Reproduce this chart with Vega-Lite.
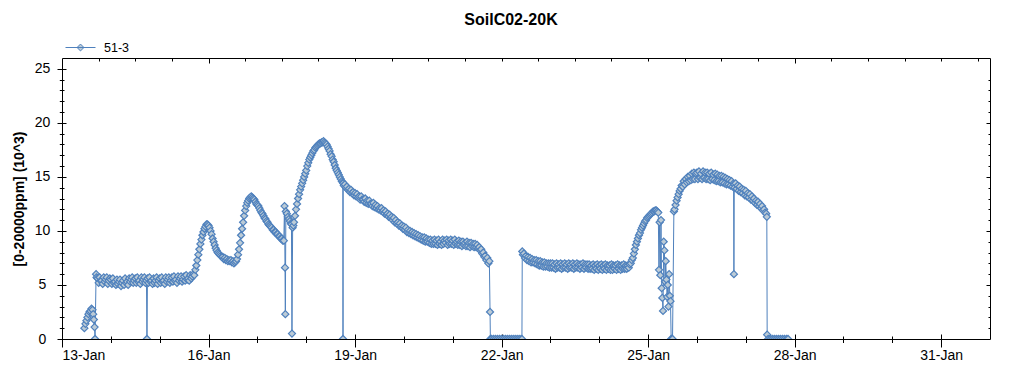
{
"$schema": "https://vega.github.io/schema/vega-lite/v6.json",
"width": 928, "height": 281,
"autosize": {"type": "none"},
"padding": {"left": 62, "top": 58, "right": 34, "bottom": 36},
"background": "white",
"config": {"view": {"stroke": "#000", "strokeWidth": 1}, "font": "Liberation Sans",
 "axis": {"domain": false, "grid": false, "tickColor": "#000", "tickWidth": 1, "labelColor": "#000", "labelFont": "Liberation Sans", "labelFontSize": 14, "titleFont": "Liberation Sans", "titleColor": "#000"}},
"title": {"text": "SoilC02-20K", "fontSize": 16, "font": "Liberation Sans", "fontWeight": "bold", "color": "#000", "anchor": "middle", "dx": -15, "offset": 4},
"data": {"values": [
{"t":"2020-01-13T11:00","v":1.0},{"t":"2020-01-13T11:30","v":1.4},{"t":"2020-01-13T12:00","v":1.7},{"t":"2020-01-13T12:30","v":2.0},{"t":"2020-01-13T13:00","v":2.3},{"t":"2020-01-13T13:30","v":2.5},{"t":"2020-01-13T14:00","v":2.6},{"t":"2020-01-13T14:30","v":2.8},{"t":"2020-01-13T15:00","v":2.7},{"t":"2020-01-13T15:20","v":2.3},{"t":"2020-01-13T15:40","v":1.8},{"t":"2020-01-13T16:00","v":1.1},{"t":"2020-01-13T16:15","v":0},{"t":"2020-01-13T16:45","v":6.0},{"t":"2020-01-13T17:00","v":5.7},{"t":"2020-01-13T17:30","v":5.6},{"t":"2020-01-13T18:00","v":5.2},{"t":"2020-01-13T18:30","v":5.7},{"t":"2020-01-13T19:00","v":5.4},{"t":"2020-01-13T19:30","v":5.4},{"t":"2020-01-13T20:00","v":5.1},{"t":"2020-01-13T20:30","v":5.7},{"t":"2020-01-13T21:00","v":5.3},{"t":"2020-01-13T21:30","v":5.5},{"t":"2020-01-13T22:00","v":5.7},{"t":"2020-01-13T22:30","v":5.1},{"t":"2020-01-13T23:00","v":5.4},{"t":"2020-01-13T23:30","v":5.6},
{"t":"2020-01-14T00:00","v":5.5},{"t":"2020-01-14T00:30","v":5.1},{"t":"2020-01-14T01:00","v":5.6},{"t":"2020-01-14T01:30","v":5.2},{"t":"2020-01-14T02:00","v":5.3},{"t":"2020-01-14T02:30","v":5.0},{"t":"2020-01-14T03:00","v":5.5},{"t":"2020-01-14T03:30","v":5.1},{"t":"2020-01-14T04:00","v":5.3},{"t":"2020-01-14T04:30","v":5.5},{"t":"2020-01-14T05:00","v":4.9},{"t":"2020-01-14T05:30","v":5.2},{"t":"2020-01-14T06:00","v":5.4},{"t":"2020-01-14T06:30","v":5.0},{"t":"2020-01-14T07:00","v":5.6},{"t":"2020-01-14T07:30","v":5.2},{"t":"2020-01-14T08:00","v":5.3},{"t":"2020-01-14T08:30","v":5.0},{"t":"2020-01-14T09:00","v":5.6},{"t":"2020-01-14T09:30","v":5.3},{"t":"2020-01-14T10:00","v":5.5},{"t":"2020-01-14T10:30","v":5.7},{"t":"2020-01-14T11:00","v":5.2},{"t":"2020-01-14T11:30","v":5.4},{"t":"2020-01-14T12:00","v":5.6},{"t":"2020-01-14T12:30","v":5.2},{"t":"2020-01-14T13:00","v":5.7},{"t":"2020-01-14T13:30","v":5.3},{"t":"2020-01-14T14:00","v":5.4},{"t":"2020-01-14T14:30","v":5.1},{"t":"2020-01-14T15:00","v":5.7},{"t":"2020-01-14T15:30","v":5.3},{"t":"2020-01-14T16:00","v":5.5},{"t":"2020-01-14T16:30","v":5.7},{"t":"2020-01-14T17:00","v":5.2},{"t":"2020-01-14T17:30","v":5.4},{"t":"2020-01-14T17:45","v":0},{"t":"2020-01-14T18:00","v":5.6},{"t":"2020-01-14T18:30","v":5.2},{"t":"2020-01-14T19:00","v":5.7},{"t":"2020-01-14T19:30","v":5.3},{"t":"2020-01-14T20:00","v":5.4},{"t":"2020-01-14T20:30","v":5.1},{"t":"2020-01-14T21:00","v":5.6},{"t":"2020-01-14T21:30","v":5.2},{"t":"2020-01-14T22:00","v":5.4},{"t":"2020-01-14T22:30","v":5.7},{"t":"2020-01-14T23:00","v":5.1},{"t":"2020-01-14T23:30","v":5.4},
{"t":"2020-01-15T00:00","v":5.6},{"t":"2020-01-15T00:30","v":5.2},{"t":"2020-01-15T01:00","v":5.7},{"t":"2020-01-15T01:30","v":5.3},{"t":"2020-01-15T02:00","v":5.4},{"t":"2020-01-15T02:30","v":5.1},{"t":"2020-01-15T03:00","v":5.7},{"t":"2020-01-15T03:30","v":5.3},{"t":"2020-01-15T04:00","v":5.5},{"t":"2020-01-15T04:30","v":5.7},{"t":"2020-01-15T05:00","v":5.2},{"t":"2020-01-15T05:30","v":5.4},{"t":"2020-01-15T06:00","v":5.7},{"t":"2020-01-15T06:30","v":5.3},{"t":"2020-01-15T07:00","v":5.8},{"t":"2020-01-15T07:30","v":5.4},{"t":"2020-01-15T08:00","v":5.5},{"t":"2020-01-15T08:30","v":5.2},{"t":"2020-01-15T09:00","v":5.8},{"t":"2020-01-15T09:30","v":5.4},{"t":"2020-01-15T10:00","v":5.6},{"t":"2020-01-15T10:30","v":5.8},{"t":"2020-01-15T11:00","v":5.3},{"t":"2020-01-15T11:30","v":5.5},{"t":"2020-01-15T12:00","v":5.8},{"t":"2020-01-15T12:30","v":5.4},{"t":"2020-01-15T13:00","v":5.9},{"t":"2020-01-15T13:30","v":5.5},{"t":"2020-01-15T14:00","v":5.6},{"t":"2020-01-15T14:30","v":5.4},{"t":"2020-01-15T15:00","v":5.9},{"t":"2020-01-15T15:30","v":5.6},{"t":"2020-01-15T16:00","v":5.8},{"t":"2020-01-15T16:30","v":6.0},{"t":"2020-01-15T17:00","v":5.9},{"t":"2020-01-15T17:30","v":6.4},{"t":"2020-01-15T18:00","v":6.8},{"t":"2020-01-15T18:30","v":7.3},{"t":"2020-01-15T19:00","v":7.8},{"t":"2020-01-15T19:30","v":8.3},{"t":"2020-01-15T20:00","v":8.8},{"t":"2020-01-15T20:30","v":9.2},{"t":"2020-01-15T21:00","v":9.6},{"t":"2020-01-15T21:30","v":9.9},{"t":"2020-01-15T22:00","v":10.2},{"t":"2020-01-15T22:30","v":10.4},{"t":"2020-01-15T23:00","v":10.6},{"t":"2020-01-15T23:30","v":10.6},
{"t":"2020-01-16T00:00","v":10.5},{"t":"2020-01-16T00:30","v":10.3},{"t":"2020-01-16T01:00","v":10.0},{"t":"2020-01-16T01:30","v":9.7},{"t":"2020-01-16T02:00","v":9.3},{"t":"2020-01-16T02:30","v":9.0},{"t":"2020-01-16T03:00","v":8.7},{"t":"2020-01-16T03:30","v":8.4},{"t":"2020-01-16T04:00","v":8.2},{"t":"2020-01-16T04:30","v":8.0},{"t":"2020-01-16T05:00","v":7.9},{"t":"2020-01-16T05:30","v":7.8},{"t":"2020-01-16T06:00","v":7.7},{"t":"2020-01-16T06:30","v":7.6},{"t":"2020-01-16T07:00","v":7.6},{"t":"2020-01-16T07:30","v":7.4},{"t":"2020-01-16T08:00","v":7.5},{"t":"2020-01-16T08:30","v":7.3},{"t":"2020-01-16T09:00","v":7.4},{"t":"2020-01-16T09:30","v":7.2},{"t":"2020-01-16T10:00","v":7.3},{"t":"2020-01-16T10:30","v":7.2},{"t":"2020-01-16T11:00","v":7.3},{"t":"2020-01-16T11:30","v":7.1},{"t":"2020-01-16T12:00","v":7.2},{"t":"2020-01-16T12:30","v":7.0},{"t":"2020-01-16T13:00","v":7.1},{"t":"2020-01-16T13:30","v":7.2},{"t":"2020-01-16T14:00","v":7.4},{"t":"2020-01-16T14:30","v":7.8},{"t":"2020-01-16T15:00","v":8.3},{"t":"2020-01-16T15:30","v":8.9},{"t":"2020-01-16T16:00","v":9.6},{"t":"2020-01-16T16:30","v":10.2},{"t":"2020-01-16T17:00","v":10.8},{"t":"2020-01-16T17:30","v":11.4},{"t":"2020-01-16T18:00","v":11.9},{"t":"2020-01-16T18:30","v":12.3},{"t":"2020-01-16T19:00","v":12.6},{"t":"2020-01-16T19:30","v":12.8},{"t":"2020-01-16T20:00","v":13.0},{"t":"2020-01-16T20:30","v":13.1},{"t":"2020-01-16T21:00","v":13.2},{"t":"2020-01-16T21:30","v":13.1},{"t":"2020-01-16T22:00","v":13.0},{"t":"2020-01-16T22:30","v":12.9},{"t":"2020-01-16T23:00","v":12.7},{"t":"2020-01-16T23:30","v":12.5},
{"t":"2020-01-17T00:00","v":12.4},{"t":"2020-01-17T00:30","v":12.3},{"t":"2020-01-17T01:00","v":12.1},{"t":"2020-01-17T01:30","v":11.9},{"t":"2020-01-17T02:00","v":11.7},{"t":"2020-01-17T02:30","v":11.6},{"t":"2020-01-17T03:00","v":11.4},{"t":"2020-01-17T03:30","v":11.2},{"t":"2020-01-17T04:00","v":11.1},{"t":"2020-01-17T04:30","v":10.9},{"t":"2020-01-17T05:00","v":10.8},{"t":"2020-01-17T05:30","v":10.6},{"t":"2020-01-17T06:00","v":10.5},{"t":"2020-01-17T06:30","v":10.4},{"t":"2020-01-17T07:00","v":10.3},{"t":"2020-01-17T07:30","v":10.1},{"t":"2020-01-17T08:00","v":10.1},{"t":"2020-01-17T08:30","v":9.9},{"t":"2020-01-17T09:00","v":9.9},{"t":"2020-01-17T09:30","v":9.7},{"t":"2020-01-17T10:00","v":9.7},{"t":"2020-01-17T10:30","v":9.5},{"t":"2020-01-17T11:00","v":9.5},{"t":"2020-01-17T11:30","v":9.3},{"t":"2020-01-17T12:00","v":9.3},{"t":"2020-01-17T12:30","v":9.1},{"t":"2020-01-17T13:00","v":9.1},{"t":"2020-01-17T13:20","v":12.3},{"t":"2020-01-17T13:35","v":6.6},{"t":"2020-01-17T13:45","v":2.3},{"t":"2020-01-17T14:00","v":11.8},{"t":"2020-01-17T14:30","v":11.6},{"t":"2020-01-17T15:00","v":11.3},{"t":"2020-01-17T15:30","v":11.1},{"t":"2020-01-17T16:00","v":10.9},{"t":"2020-01-17T16:30","v":10.7},{"t":"2020-01-17T16:45","v":10.6},{"t":"2020-01-17T17:00","v":0.5},{"t":"2020-01-17T17:20","v":10.3},{"t":"2020-01-17T17:40","v":10.5},{"t":"2020-01-17T18:00","v":10.8},{"t":"2020-01-17T18:30","v":11.4},{"t":"2020-01-17T19:00","v":12.0},{"t":"2020-01-17T19:30","v":12.5},{"t":"2020-01-17T20:00","v":13.0},{"t":"2020-01-17T20:30","v":13.4},{"t":"2020-01-17T21:00","v":13.8},{"t":"2020-01-17T21:30","v":14.1},{"t":"2020-01-17T22:00","v":14.4},{"t":"2020-01-17T22:30","v":14.7},{"t":"2020-01-17T23:00","v":15.0},{"t":"2020-01-17T23:30","v":15.3},
{"t":"2020-01-18T00:00","v":15.6},{"t":"2020-01-18T00:30","v":16.0},{"t":"2020-01-18T01:00","v":16.3},{"t":"2020-01-18T01:30","v":16.6},{"t":"2020-01-18T02:00","v":16.8},{"t":"2020-01-18T02:30","v":17.0},{"t":"2020-01-18T03:00","v":17.2},{"t":"2020-01-18T03:30","v":17.4},{"t":"2020-01-18T04:00","v":17.5},{"t":"2020-01-18T04:30","v":17.7},{"t":"2020-01-18T05:00","v":17.8},{"t":"2020-01-18T05:30","v":17.9},{"t":"2020-01-18T06:00","v":18.0},{"t":"2020-01-18T06:30","v":18.1},{"t":"2020-01-18T07:00","v":18.1},{"t":"2020-01-18T07:30","v":18.2},{"t":"2020-01-18T08:00","v":18.2},{"t":"2020-01-18T08:30","v":18.3},{"t":"2020-01-18T09:00","v":18.2},{"t":"2020-01-18T09:30","v":18.1},{"t":"2020-01-18T10:00","v":18.0},{"t":"2020-01-18T10:30","v":17.8},{"t":"2020-01-18T11:00","v":17.6},{"t":"2020-01-18T11:30","v":17.4},{"t":"2020-01-18T12:00","v":17.1},{"t":"2020-01-18T12:30","v":16.9},{"t":"2020-01-18T13:00","v":16.6},{"t":"2020-01-18T13:30","v":16.4},{"t":"2020-01-18T14:00","v":16.1},{"t":"2020-01-18T14:30","v":15.8},{"t":"2020-01-18T15:00","v":15.6},{"t":"2020-01-18T15:30","v":15.4},{"t":"2020-01-18T16:00","v":15.2},{"t":"2020-01-18T16:30","v":15.0},{"t":"2020-01-18T17:00","v":14.8},{"t":"2020-01-18T17:30","v":14.6},{"t":"2020-01-18T18:00","v":14.5},{"t":"2020-01-18T18:05","v":0},{"t":"2020-01-18T18:10","v":14.4},{"t":"2020-01-18T18:30","v":14.2},{"t":"2020-01-18T19:00","v":14.3},{"t":"2020-01-18T19:30","v":14.0},{"t":"2020-01-18T20:00","v":14.1},{"t":"2020-01-18T20:30","v":13.8},{"t":"2020-01-18T21:00","v":13.9},{"t":"2020-01-18T21:30","v":13.6},{"t":"2020-01-18T22:00","v":13.8},{"t":"2020-01-18T22:30","v":13.5},{"t":"2020-01-18T23:00","v":13.6},{"t":"2020-01-18T23:30","v":13.3},
{"t":"2020-01-19T00:00","v":13.5},{"t":"2020-01-19T00:30","v":13.2},{"t":"2020-01-19T01:00","v":13.4},{"t":"2020-01-19T01:30","v":13.1},{"t":"2020-01-19T02:00","v":13.2},{"t":"2020-01-19T02:30","v":12.9},{"t":"2020-01-19T03:00","v":13.2},{"t":"2020-01-19T03:30","v":12.9},{"t":"2020-01-19T04:00","v":12.9},{"t":"2020-01-19T04:30","v":12.7},{"t":"2020-01-19T05:00","v":13.0},{"t":"2020-01-19T05:30","v":12.6},{"t":"2020-01-19T06:00","v":12.8},{"t":"2020-01-19T06:30","v":12.5},{"t":"2020-01-19T07:00","v":12.8},{"t":"2020-01-19T07:30","v":12.5},{"t":"2020-01-19T08:00","v":12.5},{"t":"2020-01-19T08:30","v":12.3},{"t":"2020-01-19T09:00","v":12.6},{"t":"2020-01-19T09:30","v":12.2},{"t":"2020-01-19T10:00","v":12.4},{"t":"2020-01-19T10:30","v":12.1},{"t":"2020-01-19T11:00","v":12.3},{"t":"2020-01-19T11:30","v":12.0},{"t":"2020-01-19T12:00","v":12.1},{"t":"2020-01-19T12:30","v":11.9},{"t":"2020-01-19T13:00","v":12.1},{"t":"2020-01-19T13:30","v":11.8},{"t":"2020-01-19T14:00","v":11.9},{"t":"2020-01-19T14:30","v":11.6},{"t":"2020-01-19T15:00","v":11.8},{"t":"2020-01-19T15:30","v":11.5},{"t":"2020-01-19T16:00","v":11.6},{"t":"2020-01-19T16:30","v":11.3},{"t":"2020-01-19T17:00","v":11.5},{"t":"2020-01-19T17:30","v":11.2},{"t":"2020-01-19T18:00","v":11.3},{"t":"2020-01-19T18:30","v":11.0},{"t":"2020-01-19T19:00","v":11.2},{"t":"2020-01-19T19:30","v":10.8},{"t":"2020-01-19T20:00","v":11.0},{"t":"2020-01-19T20:30","v":10.7},{"t":"2020-01-19T21:00","v":10.8},{"t":"2020-01-19T21:30","v":10.5},{"t":"2020-01-19T22:00","v":10.7},{"t":"2020-01-19T22:30","v":10.4},{"t":"2020-01-19T23:00","v":10.5},{"t":"2020-01-19T23:30","v":10.2},
{"t":"2020-01-20T00:00","v":10.4},{"t":"2020-01-20T00:30","v":10.1},{"t":"2020-01-20T01:00","v":10.3},{"t":"2020-01-20T01:30","v":9.9},{"t":"2020-01-20T02:00","v":10.1},{"t":"2020-01-20T02:30","v":9.8},{"t":"2020-01-20T03:00","v":10.0},{"t":"2020-01-20T03:30","v":9.7},{"t":"2020-01-20T04:00","v":9.9},{"t":"2020-01-20T04:30","v":9.6},{"t":"2020-01-20T05:00","v":9.8},{"t":"2020-01-20T05:30","v":9.5},{"t":"2020-01-20T06:00","v":9.7},{"t":"2020-01-20T06:30","v":9.4},{"t":"2020-01-20T07:00","v":9.6},{"t":"2020-01-20T07:30","v":9.3},{"t":"2020-01-20T08:00","v":9.5},{"t":"2020-01-20T08:30","v":9.2},{"t":"2020-01-20T09:00","v":9.4},{"t":"2020-01-20T09:30","v":9.1},{"t":"2020-01-20T10:00","v":9.4},{"t":"2020-01-20T10:30","v":9.0},{"t":"2020-01-20T11:00","v":9.3},{"t":"2020-01-20T11:30","v":9.0},{"t":"2020-01-20T12:00","v":9.2},{"t":"2020-01-20T12:30","v":8.9},{"t":"2020-01-20T13:00","v":9.2},{"t":"2020-01-20T13:30","v":8.8},{"t":"2020-01-20T14:00","v":9.1},{"t":"2020-01-20T14:30","v":8.8},{"t":"2020-01-20T15:00","v":9.2},{"t":"2020-01-20T15:30","v":8.8},{"t":"2020-01-20T16:00","v":9.1},{"t":"2020-01-20T16:30","v":8.7},{"t":"2020-01-20T17:00","v":9.2},{"t":"2020-01-20T17:30","v":8.8},{"t":"2020-01-20T18:00","v":9.0},{"t":"2020-01-20T18:30","v":8.7},{"t":"2020-01-20T19:00","v":9.2},{"t":"2020-01-20T19:30","v":8.8},{"t":"2020-01-20T20:00","v":9.1},{"t":"2020-01-20T20:30","v":8.9},{"t":"2020-01-20T21:00","v":9.2},{"t":"2020-01-20T21:30","v":8.7},{"t":"2020-01-20T22:00","v":9.1},{"t":"2020-01-20T22:30","v":8.8},{"t":"2020-01-20T23:00","v":9.2},{"t":"2020-01-20T23:30","v":8.8},
{"t":"2020-01-21T00:00","v":9.1},{"t":"2020-01-21T00:30","v":8.7},{"t":"2020-01-21T01:00","v":9.2},{"t":"2020-01-21T01:30","v":8.8},{"t":"2020-01-21T02:00","v":9.0},{"t":"2020-01-21T02:30","v":8.7},{"t":"2020-01-21T03:00","v":9.1},{"t":"2020-01-21T03:30","v":8.7},{"t":"2020-01-21T04:00","v":9.0},{"t":"2020-01-21T04:30","v":8.6},{"t":"2020-01-21T05:00","v":9.0},{"t":"2020-01-21T05:30","v":8.7},{"t":"2020-01-21T06:00","v":8.9},{"t":"2020-01-21T06:30","v":8.6},{"t":"2020-01-21T07:00","v":9.0},{"t":"2020-01-21T07:30","v":8.6},{"t":"2020-01-21T08:00","v":8.9},{"t":"2020-01-21T08:30","v":8.5},{"t":"2020-01-21T09:00","v":8.9},{"t":"2020-01-21T09:30","v":8.6},{"t":"2020-01-21T10:00","v":8.8},{"t":"2020-01-21T10:30","v":8.5},{"t":"2020-01-21T11:00","v":8.8},{"t":"2020-01-21T11:30","v":8.5},{"t":"2020-01-21T12:00","v":8.7},{"t":"2020-01-21T12:30","v":8.4},{"t":"2020-01-21T13:00","v":8.5},{"t":"2020-01-21T13:30","v":8.2},{"t":"2020-01-21T14:00","v":8.3},{"t":"2020-01-21T14:30","v":7.9},{"t":"2020-01-21T15:00","v":8.0},{"t":"2020-01-21T15:30","v":7.6},{"t":"2020-01-21T16:00","v":7.7},{"t":"2020-01-21T16:30","v":7.3},{"t":"2020-01-21T17:00","v":7.5},{"t":"2020-01-21T17:30","v":7.0},{"t":"2020-01-21T18:00","v":7.2},{"t":"2020-01-21T18:20","v":2.5},{"t":"2020-01-21T18:30","v":0},{"t":"2020-01-21T19:00","v":0},{"t":"2020-01-21T20:00","v":0},{"t":"2020-01-21T21:00","v":0},{"t":"2020-01-21T22:00","v":0},{"t":"2020-01-21T23:00","v":0},
{"t":"2020-01-22T00:00","v":0},{"t":"2020-01-22T01:00","v":0},{"t":"2020-01-22T02:00","v":0},{"t":"2020-01-22T03:00","v":0},{"t":"2020-01-22T04:00","v":0},{"t":"2020-01-22T05:00","v":0},{"t":"2020-01-22T06:00","v":0},{"t":"2020-01-22T07:00","v":0},{"t":"2020-01-22T08:00","v":0},{"t":"2020-01-22T09:00","v":0},{"t":"2020-01-22T10:00","v":0},{"t":"2020-01-22T10:10","v":8.1},{"t":"2020-01-22T10:30","v":7.8},{"t":"2020-01-22T11:00","v":7.9},{"t":"2020-01-22T11:30","v":7.5},{"t":"2020-01-22T12:00","v":7.7},{"t":"2020-01-22T12:30","v":7.3},{"t":"2020-01-22T13:00","v":7.6},{"t":"2020-01-22T13:30","v":7.2},{"t":"2020-01-22T14:00","v":7.5},{"t":"2020-01-22T14:30","v":7.1},{"t":"2020-01-22T15:00","v":7.4},{"t":"2020-01-22T15:30","v":7.1},{"t":"2020-01-22T16:00","v":7.3},{"t":"2020-01-22T16:30","v":7.0},{"t":"2020-01-22T17:00","v":7.3},{"t":"2020-01-22T17:30","v":6.9},{"t":"2020-01-22T18:00","v":7.2},{"t":"2020-01-22T18:30","v":6.8},{"t":"2020-01-22T19:00","v":7.2},{"t":"2020-01-22T19:30","v":6.8},{"t":"2020-01-22T20:00","v":7.1},{"t":"2020-01-22T20:30","v":6.7},{"t":"2020-01-22T21:00","v":7.1},{"t":"2020-01-22T21:30","v":6.7},{"t":"2020-01-22T22:00","v":7.0},{"t":"2020-01-22T22:30","v":6.7},{"t":"2020-01-22T23:00","v":7.0},{"t":"2020-01-22T23:30","v":6.6},
{"t":"2020-01-23T00:00","v":7.0},{"t":"2020-01-23T00:30","v":6.6},{"t":"2020-01-23T01:00","v":7.0},{"t":"2020-01-23T01:30","v":6.6},{"t":"2020-01-23T02:00","v":6.9},{"t":"2020-01-23T02:30","v":6.5},{"t":"2020-01-23T03:00","v":7.0},{"t":"2020-01-23T03:30","v":6.6},{"t":"2020-01-23T04:00","v":6.9},{"t":"2020-01-23T04:30","v":6.6},{"t":"2020-01-23T05:00","v":7.0},{"t":"2020-01-23T05:30","v":6.5},{"t":"2020-01-23T06:00","v":6.9},{"t":"2020-01-23T06:30","v":6.6},{"t":"2020-01-23T07:00","v":7.0},{"t":"2020-01-23T07:30","v":6.6},{"t":"2020-01-23T08:00","v":6.9},{"t":"2020-01-23T08:30","v":6.5},{"t":"2020-01-23T09:00","v":7.0},{"t":"2020-01-23T09:30","v":6.6},{"t":"2020-01-23T10:00","v":6.9},{"t":"2020-01-23T10:30","v":6.6},{"t":"2020-01-23T11:00","v":7.0},{"t":"2020-01-23T11:30","v":6.5},{"t":"2020-01-23T12:00","v":6.9},{"t":"2020-01-23T12:30","v":6.6},{"t":"2020-01-23T13:00","v":7.0},{"t":"2020-01-23T13:30","v":6.6},{"t":"2020-01-23T14:00","v":6.9},{"t":"2020-01-23T14:30","v":6.5},{"t":"2020-01-23T15:00","v":6.9},{"t":"2020-01-23T15:30","v":6.6},{"t":"2020-01-23T16:00","v":7.0},{"t":"2020-01-23T16:30","v":6.5},{"t":"2020-01-23T17:00","v":6.9},{"t":"2020-01-23T17:30","v":6.6},{"t":"2020-01-23T18:00","v":6.9},{"t":"2020-01-23T18:30","v":6.5},{"t":"2020-01-23T19:00","v":6.9},{"t":"2020-01-23T19:30","v":6.5},{"t":"2020-01-23T20:00","v":6.8},{"t":"2020-01-23T20:30","v":6.5},{"t":"2020-01-23T21:00","v":6.9},{"t":"2020-01-23T21:30","v":6.4},{"t":"2020-01-23T22:00","v":6.8},{"t":"2020-01-23T22:30","v":6.5},{"t":"2020-01-23T23:00","v":6.9},{"t":"2020-01-23T23:30","v":6.4},
{"t":"2020-01-24T00:00","v":6.8},{"t":"2020-01-24T00:30","v":6.5},{"t":"2020-01-24T01:00","v":6.9},{"t":"2020-01-24T01:30","v":6.4},{"t":"2020-01-24T02:00","v":6.8},{"t":"2020-01-24T02:30","v":6.5},{"t":"2020-01-24T03:00","v":6.9},{"t":"2020-01-24T03:30","v":6.4},{"t":"2020-01-24T04:00","v":6.8},{"t":"2020-01-24T04:30","v":6.5},{"t":"2020-01-24T05:00","v":6.8},{"t":"2020-01-24T05:30","v":6.4},{"t":"2020-01-24T06:00","v":6.9},{"t":"2020-01-24T06:30","v":6.4},{"t":"2020-01-24T07:00","v":6.8},{"t":"2020-01-24T07:30","v":6.5},{"t":"2020-01-24T08:00","v":6.8},{"t":"2020-01-24T08:30","v":6.4},{"t":"2020-01-24T09:00","v":6.9},{"t":"2020-01-24T09:30","v":6.5},{"t":"2020-01-24T10:00","v":6.8},{"t":"2020-01-24T10:30","v":6.4},{"t":"2020-01-24T11:00","v":6.8},{"t":"2020-01-24T11:30","v":6.5},{"t":"2020-01-24T12:00","v":6.9},{"t":"2020-01-24T12:30","v":6.5},{"t":"2020-01-24T13:00","v":6.8},{"t":"2020-01-24T13:30","v":6.5},{"t":"2020-01-24T14:00","v":6.8},{"t":"2020-01-24T14:30","v":6.6},{"t":"2020-01-24T15:00","v":6.9},{"t":"2020-01-24T15:30","v":7.0},{"t":"2020-01-24T16:00","v":7.3},{"t":"2020-01-24T16:30","v":7.5},{"t":"2020-01-24T17:00","v":7.9},{"t":"2020-01-24T17:30","v":8.3},{"t":"2020-01-24T18:00","v":8.7},{"t":"2020-01-24T18:30","v":9.0},{"t":"2020-01-24T19:00","v":9.3},{"t":"2020-01-24T19:30","v":9.6},{"t":"2020-01-24T20:00","v":9.8},{"t":"2020-01-24T20:30","v":10.1},{"t":"2020-01-24T21:00","v":10.3},{"t":"2020-01-24T21:30","v":10.5},{"t":"2020-01-24T22:00","v":10.7},{"t":"2020-01-24T22:30","v":10.9},{"t":"2020-01-24T23:00","v":11.0},{"t":"2020-01-24T23:30","v":11.2},
{"t":"2020-01-25T00:00","v":11.3},{"t":"2020-01-25T00:30","v":11.4},{"t":"2020-01-25T01:00","v":11.5},{"t":"2020-01-25T01:30","v":11.6},{"t":"2020-01-25T02:00","v":11.7},{"t":"2020-01-25T02:30","v":11.8},{"t":"2020-01-25T03:00","v":11.8},{"t":"2020-01-25T03:30","v":11.9},{"t":"2020-01-25T04:00","v":11.9},{"t":"2020-01-25T04:30","v":11.8},{"t":"2020-01-25T05:00","v":11.7},{"t":"2020-01-25T05:20","v":6.4},{"t":"2020-01-25T05:40","v":10.8},{"t":"2020-01-25T06:00","v":5.9},{"t":"2020-01-25T06:20","v":11.0},{"t":"2020-01-25T06:40","v":4.7},{"t":"2020-01-25T07:00","v":3.8},{"t":"2020-01-25T07:20","v":2.6},{"t":"2020-01-25T07:40","v":9.0},{"t":"2020-01-25T08:00","v":8.2},{"t":"2020-01-25T08:20","v":5.3},{"t":"2020-01-25T08:40","v":7.2},{"t":"2020-01-25T09:00","v":5.5},{"t":"2020-01-25T09:20","v":3.9},{"t":"2020-01-25T09:40","v":5.0},{"t":"2020-01-25T10:00","v":3.0},{"t":"2020-01-25T10:20","v":6.0},{"t":"2020-01-25T10:40","v":4.0},{"t":"2020-01-25T11:00","v":3.5},{"t":"2020-01-25T11:20","v":0},{"t":"2020-01-25T11:40","v":0},{"t":"2020-01-25T12:00","v":0},{"t":"2020-01-25T12:40","v":11.8},{"t":"2020-01-25T13:00","v":12.0},{"t":"2020-01-25T13:30","v":12.4},{"t":"2020-01-25T14:00","v":12.8},{"t":"2020-01-25T14:30","v":13.1},{"t":"2020-01-25T15:00","v":13.4},{"t":"2020-01-25T15:30","v":13.7},{"t":"2020-01-25T16:00","v":13.9},{"t":"2020-01-25T16:30","v":14.2},{"t":"2020-01-25T17:00","v":14.1},{"t":"2020-01-25T17:30","v":14.6},{"t":"2020-01-25T18:00","v":14.3},{"t":"2020-01-25T18:30","v":14.8},{"t":"2020-01-25T19:00","v":14.5},{"t":"2020-01-25T19:30","v":15.0},{"t":"2020-01-25T20:00","v":14.6},{"t":"2020-01-25T20:30","v":15.1},{"t":"2020-01-25T21:00","v":14.7},{"t":"2020-01-25T21:30","v":15.3},{"t":"2020-01-25T22:00","v":14.8},{"t":"2020-01-25T22:30","v":15.4},{"t":"2020-01-25T23:00","v":14.8},{"t":"2020-01-25T23:30","v":15.3},
{"t":"2020-01-26T00:00","v":15.4},{"t":"2020-01-26T00:30","v":14.8},{"t":"2020-01-26T01:00","v":15.5},{"t":"2020-01-26T01:30","v":14.9},{"t":"2020-01-26T02:00","v":15.3},{"t":"2020-01-26T02:30","v":14.8},{"t":"2020-01-26T03:00","v":15.5},{"t":"2020-01-26T03:30","v":14.9},{"t":"2020-01-26T04:00","v":15.4},{"t":"2020-01-26T04:30","v":14.8},{"t":"2020-01-26T05:00","v":15.4},{"t":"2020-01-26T05:30","v":14.8},{"t":"2020-01-26T06:00","v":15.3},{"t":"2020-01-26T06:30","v":14.7},{"t":"2020-01-26T07:00","v":15.4},{"t":"2020-01-26T07:30","v":14.8},{"t":"2020-01-26T08:00","v":15.2},{"t":"2020-01-26T08:30","v":14.7},{"t":"2020-01-26T09:00","v":15.3},{"t":"2020-01-26T09:30","v":14.6},{"t":"2020-01-26T10:00","v":15.2},{"t":"2020-01-26T10:30","v":14.6},{"t":"2020-01-26T11:00","v":15.1},{"t":"2020-01-26T11:30","v":14.5},{"t":"2020-01-26T12:00","v":15.1},{"t":"2020-01-26T12:30","v":14.5},{"t":"2020-01-26T13:00","v":15.0},{"t":"2020-01-26T13:30","v":14.4},{"t":"2020-01-26T14:00","v":14.9},{"t":"2020-01-26T14:30","v":14.3},{"t":"2020-01-26T15:00","v":14.8},{"t":"2020-01-26T15:30","v":14.3},{"t":"2020-01-26T16:00","v":14.7},{"t":"2020-01-26T16:30","v":14.2},{"t":"2020-01-26T17:00","v":14.6},{"t":"2020-01-26T17:30","v":14.1},{"t":"2020-01-26T18:00","v":14.4},{"t":"2020-01-26T18:10","v":6.0},{"t":"2020-01-26T18:20","v":14.3},{"t":"2020-01-26T18:30","v":14.0},{"t":"2020-01-26T19:00","v":14.4},{"t":"2020-01-26T19:30","v":13.9},{"t":"2020-01-26T20:00","v":14.2},{"t":"2020-01-26T20:30","v":13.7},{"t":"2020-01-26T21:00","v":14.1},{"t":"2020-01-26T21:30","v":13.6},{"t":"2020-01-26T22:00","v":13.9},{"t":"2020-01-26T22:30","v":13.5},{"t":"2020-01-26T23:00","v":13.8},{"t":"2020-01-26T23:30","v":13.3},
{"t":"2020-01-27T00:00","v":13.7},{"t":"2020-01-27T00:30","v":13.2},{"t":"2020-01-27T01:00","v":13.5},{"t":"2020-01-27T01:30","v":13.1},{"t":"2020-01-27T02:00","v":13.4},{"t":"2020-01-27T02:30","v":12.9},{"t":"2020-01-27T03:00","v":13.2},{"t":"2020-01-27T03:30","v":12.8},{"t":"2020-01-27T04:00","v":13.0},{"t":"2020-01-27T04:30","v":12.6},{"t":"2020-01-27T05:00","v":12.8},{"t":"2020-01-27T05:30","v":12.4},{"t":"2020-01-27T06:00","v":12.7},{"t":"2020-01-27T06:30","v":12.3},{"t":"2020-01-27T07:00","v":12.5},{"t":"2020-01-27T07:30","v":12.1},{"t":"2020-01-27T08:00","v":12.3},{"t":"2020-01-27T08:30","v":11.9},{"t":"2020-01-27T09:00","v":12.0},{"t":"2020-01-27T09:30","v":11.7},{"t":"2020-01-27T10:00","v":11.6},{"t":"2020-01-27T10:20","v":11.3},{"t":"2020-01-27T10:30","v":0.4},{"t":"2020-01-27T11:00","v":0},{"t":"2020-01-27T12:00","v":0},{"t":"2020-01-27T13:00","v":0},{"t":"2020-01-27T14:00","v":0},{"t":"2020-01-27T15:00","v":0},{"t":"2020-01-27T16:00","v":0},{"t":"2020-01-27T17:00","v":0},{"t":"2020-01-27T18:00","v":0},{"t":"2020-01-27T19:00","v":0},{"t":"2020-01-27T20:00","v":0},{"t":"2020-01-27T20:45","v":0}
]},
"resolve": {"axis": {"x": "independent", "y": "independent"}},
"layer": [
 {"mark": {"type": "line", "strokeWidth": 1, "clip": true},
  "encoding": {
   "x": {"field": "t", "type": "temporal",
    "scale": {"domain": [{"year": 2020, "month": "jan", "date": 13}, {"year": 2020, "month": "feb", "date": 1}]},
    "axis": {"orient": "bottom", "title": null, "format": "%-d-%b", "offset": -5, "tickSize": 13, "labelPadding": 1,
     "values": [{"year": 2020, "month": "jan", "date": 13}, {"year": 2020, "month": "jan", "date": 16}, {"year": 2020, "month": "jan", "date": 19}, {"year": 2020, "month": "jan", "date": 22}, {"year": 2020, "month": "jan", "date": 25}, {"year": 2020, "month": "jan", "date": 28}, {"year": 2020, "month": "jan", "date": 31}]}},
   "y": {"field": "v", "type": "quantitative", "scale": {"domain": [0, 25]},
    "axis": {"orient": "left", "values": [0, 5, 10, 15, 20, 25], "offset": -4, "tickSize": 9, "labelPadding": 15, "labelAlign": "center",
     "title": "[0-20000ppm] (10^3)", "titleFontSize": 14, "titleFontWeight": "bold", "titlePadding": 8}},
   "color": {"datum": "51-3", "scale": {"range": ["#4f81bd"]},
    "legend": {"orient": "none", "legendX": 3, "legendY": -26, "title": null,
     "symbolType": "M-1,0H1M0,-0.23L0.23,0L0,0.23L-0.23,0Z", "symbolSize": 900, "symbolStrokeWidth": 1,
     "labelFontSize": 12.5, "labelFont": "Liberation Sans", "labelColor": "#000", "labelOffset": 8, "padding": 0,
     "symbolFillColor": "#bccbd6", "symbolStrokeColor": "#4f81bd",
     "encode": {"symbols": {"update": {"fill": {"value": "#bccbd6"}, "stroke": {"value": "#4f81bd"}, "strokeWidth": {"value": 1}}}}}}
  }},
 {"mark": {"type": "point", "shape": "diamond", "filled": true, "fill": "#bccbd6", "stroke": "#4f81bd", "strokeWidth": 1.2, "size": 50, "opacity": 1, "clip": true},
  "encoding": {
   "x": {"field": "t", "type": "temporal",
    "axis": {"orient": "bottom", "title": null, "labels": false, "offset": -3, "tickSize": 6.5,
     "values": [{"year": 2020, "month": "jan", "date": 14}, {"year": 2020, "month": "jan", "date": 15}, {"year": 2020, "month": "jan", "date": 17}, {"year": 2020, "month": "jan", "date": 18}, {"year": 2020, "month": "jan", "date": 20}, {"year": 2020, "month": "jan", "date": 21}, {"year": 2020, "month": "jan", "date": 23}, {"year": 2020, "month": "jan", "date": 24}, {"year": 2020, "month": "jan", "date": 26}, {"year": 2020, "month": "jan", "date": 27}, {"year": 2020, "month": "jan", "date": 29}, {"year": 2020, "month": "jan", "date": 30}]}},
   "y": {"field": "v", "type": "quantitative",
    "axis": {"orient": "left", "title": null, "labels": false, "offset": -2, "tickSize": 4.7,
     "values": [1, 2, 3, 4, 6, 7, 8, 9, 11, 12, 13, 14, 16, 17, 18, 19, 21, 22, 23, 24]}}
  }},
 {"mark": {"type": "point", "opacity": 0},
  "encoding": {
   "x": {"field": "t", "type": "temporal",
    "axis": {"orient": "top", "title": null, "labels": false, "offset": -3, "tickSize": 3,
     "values": [{"year": 2020, "month": "jan", "date": 13, "hours": 18}, {"year": 2020, "month": "jan", "date": 14, "hours": 12}, {"year": 2020, "month": "jan", "date": 15, "hours": 6}, {"year": 2020, "month": "jan", "date": 16, "hours": 18}, {"year": 2020, "month": "jan", "date": 17, "hours": 12}, {"year": 2020, "month": "jan", "date": 18, "hours": 6}, {"year": 2020, "month": "jan", "date": 19}, {"year": 2020, "month": "jan", "date": 19, "hours": 18}, {"year": 2020, "month": "jan", "date": 20, "hours": 12}, {"year": 2020, "month": "jan", "date": 21, "hours": 6}, {"year": 2020, "month": "jan", "date": 22}, {"year": 2020, "month": "jan", "date": 22, "hours": 18}, {"year": 2020, "month": "jan", "date": 23, "hours": 12}, {"year": 2020, "month": "jan", "date": 24, "hours": 6}, {"year": 2020, "month": "jan", "date": 25}, {"year": 2020, "month": "jan", "date": 25, "hours": 18}, {"year": 2020, "month": "jan", "date": 26, "hours": 12}, {"year": 2020, "month": "jan", "date": 27, "hours": 6}, {"year": 2020, "month": "jan", "date": 28, "hours": 18}, {"year": 2020, "month": "jan", "date": 29, "hours": 12}, {"year": 2020, "month": "jan", "date": 30, "hours": 6}, {"year": 2020, "month": "jan", "date": 31}, {"year": 2020, "month": "jan", "date": 31, "hours": 18}]}},
   "y": {"field": "v", "type": "quantitative",
    "axis": {"orient": "right", "title": null, "labels": false, "offset": -2, "tickSize": 2,
     "values": [1, 2, 3, 4, 6, 7, 8, 9, 11, 12, 13, 14, 16, 17, 18, 19, 21, 22, 23, 24]}}
  }},
 {"mark": {"type": "point", "opacity": 0},
  "encoding": {
   "x": {"field": "t", "type": "temporal",
    "axis": {"orient": "top", "title": null, "labels": false, "offset": -5, "tickSize": 5,
     "values": [{"year": 2020, "month": "jan", "date": 16}, {"year": 2020, "month": "jan", "date": 28}]}},
   "y": {"field": "v", "type": "quantitative",
    "axis": {"orient": "right", "title": null, "labels": false, "offset": -4, "tickSize": 4,
     "values": [5, 10, 15, 20]}}
  }}
]
}
